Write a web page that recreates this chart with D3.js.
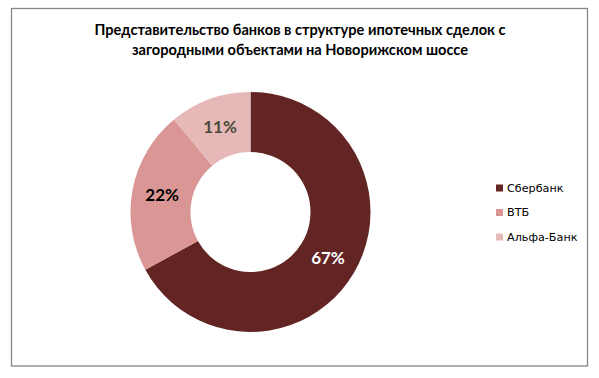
<!DOCTYPE html>
<html><head><meta charset="utf-8">
<script src="https://cdn.jsdelivr.net/npm/d3@7"></script>
<style>body{margin:0;background:#fff}</style>
</head><body>
<svg id="c" width="599" height="378"></svg>
<script>
const categories = ["Сбербанк", "ВТБ", "Альфа-Банк"];
const values = [67, 22, 11];
const colors = ["#632523", "#D99694", "#E6B9B8"];
const labelColors = ["#ffffff", "#000000", "#4a4a3a"];
const titleLines = ["Представительство банков в структуре ипотечных сделок с", "загородными объектами на Новорижском шоссе"];

const svg = d3.select("#c");
svg.append("rect").attr("x",11.5).attr("y",8.5).attr("width",576).attr("height",357.5)
  .attr("fill","#fff").attr("stroke","#868686").attr("stroke-width",1.3);

svg.selectAll("text.title").data(titleLines).enter().append("text")
  .attr("x",300).attr("y",(d,i)=>35+i*20).attr("text-anchor","middle")
  .attr("font-family","Lato, 'Open Sans', sans-serif").attr("font-weight","bold").attr("font-size",14.6)
  .attr("fill","#000").text(d=>d);

const data = categories.map((c,i)=>({c, v: values[i], i}));
const pie = d3.pie().value(d=>d.v).sort(null);
const arc = d3.arc().innerRadius(60).outerRadius(120);
const g = svg.append("g").attr("transform","translate(250.5,212)");
const arcs = pie(data);
g.selectAll("path").data(arcs).enter().append("path").attr("d",arc).attr("fill",d=>colors[d.data.i]);
g.selectAll("text").data(arcs).enter().append("text")
  .attr("transform",d=>`translate(${arc.centroid(d)})`)
  .attr("text-anchor","middle").attr("dy","0.36em")
  .attr("font-family","Lato, 'Open Sans', sans-serif").attr("font-weight","bold").attr("font-size",17)
  .attr("fill",d=>labelColors[d.data.i]).text(d=>d.data.v+"%");

const y = d3.scalePoint().domain(categories).range([188,237]);
const lg = svg.append("g");
lg.selectAll("rect").data(categories).enter().append("rect")
  .attr("x",496).attr("y",d=>y(d)-3.5).attr("width",7).attr("height",7).attr("fill",(d,i)=>colors[i]);
lg.selectAll("text").data(categories).enter().append("text")
  .attr("x",507).attr("y",d=>y(d)).attr("dy","0.35em")
  .attr("font-family","'DejaVu Sans', sans-serif").attr("font-size",11.2).attr("fill","#000").text(d=>d);
</script>
</body></html>
